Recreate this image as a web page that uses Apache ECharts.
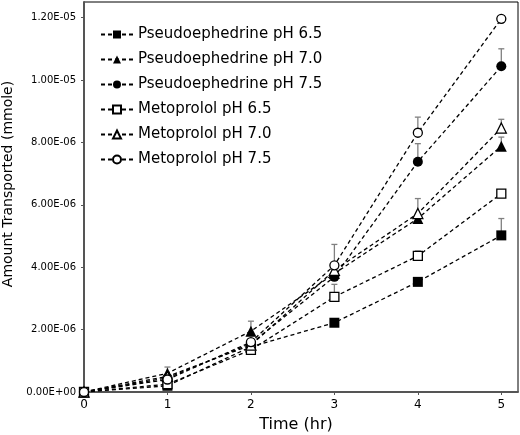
<!DOCTYPE html>
<html>
<head>
<meta charset="utf-8">
<script src="https://cdn.jsdelivr.net/npm/echarts@6/dist/echarts.min.js"></script>
<style>html,body{margin:0;padding:0;background:#fff}#c{width:520px;height:435px}</style>
</head>
<body>
<div id="c"></div>
<script>
var times = [0, 1, 2, 3, 4, 5];
var seriesNames = ["Pseudoephedrine pH 6.5", "Pseudoephedrine pH 7.0", "Pseudoephedrine pH 7.5",
  "Metoprolol pH 6.5", "Metoprolol pH 7.0", "Metoprolol pH 7.5"];
var pse65 = [0, 0.20e-6, 1.45e-6, 2.22e-6, 3.53e-6, 5.02e-6];
var pse70 = [0, 0.60e-6, 1.95e-6, 3.80e-6, 5.56e-6, 7.88e-6];
var pse75 = [0, 0.45e-6, 1.55e-6, 3.69e-6, 7.38e-6, 10.44e-6];
var met65 = [0, 0.25e-6, 1.35e-6, 3.05e-6, 4.36e-6, 6.36e-6];
var met70 = [0, 0.50e-6, 1.50e-6, 3.90e-6, 5.72e-6, 8.46e-6];
var met75 = [0, 0.40e-6, 1.60e-6, 4.06e-6, 8.31e-6, 11.96e-6];
// upward error bars (0 = none visible)
var pse65Err = [0, 0, 0, 0, 0, 0.54e-6];
var pse70Err = [0, 0.20e-6, 0.32e-6, 0, 0, 0.29e-6];
var pse75Err = [0, 0, 0, 0, 0.58e-6, 0.56e-6];
var met65Err = [0, 0, 0, 0.40e-6, 0.16e-6, 0];
var met70Err = [0, 0, 0, 0, 0.48e-6, 0.28e-6];
var met75Err = [0, 0, 0, 0.67e-6, 0.50e-6, 0];

var values = [pse65, pse70, pse75, met65, met70, met75];
var errs = [pse65Err, pse70Err, pse75Err, met65Err, met70Err, met75Err];
var symbols = ['rect', 'triangle', 'circle', 'rect', 'triangle', 'circle'];
var sizes = [10, 11, 10, 9, 10, 9];
var filled = [true, true, true, false, false, false];

function fmtE(v) {
  var s = v.toExponential(2).toUpperCase();
  var m = s.match(/^(.*)E([+-])(\d+)$/);
  var e = m[3].length < 2 ? '0' + m[3] : m[3];
  return m[1] + 'E' + m[2] + e;
}

var series = [];
values.forEach(function (vals, i) {
  var errData = [];
  times.forEach(function (t, j) { if (errs[i][j] > 0) errData.push([t, vals[j], errs[i][j]]); });
  series.push({
    type: 'custom',
    silent: true,
    z: 1,
    data: errData,
    renderItem: function (params, api) {
      var p0 = api.coord([api.value(0), api.value(1)]);
      var p1 = api.coord([api.value(0), api.value(1) + api.value(2)]);
      return {
        type: 'group',
        children: [
          { type: 'line', shape: { x1: p0[0], y1: p0[1], x2: p1[0], y2: p1[1] }, style: { stroke: '#808080', lineWidth: 1.3 } },
          { type: 'line', shape: { x1: p1[0] - 3, y1: p1[1], x2: p1[0] + 3, y2: p1[1] }, style: { stroke: '#808080', lineWidth: 1.3 } }
        ]
      };
    }
  });
});
values.forEach(function (vals, i) {
  series.push({
    name: seriesNames[i],
    type: 'line',
    z: 3,
    data: times.map(function (t, j) { return [t, vals[j]]; }),
    symbol: symbols[i],
    symbolSize: sizes[i],
    showAllSymbol: true,
    lineStyle: { color: '#000', width: 1.3, type: [4, 3] },
    itemStyle: { color: filled[i] ? '#000' : '#fff', borderColor: '#000', borderWidth: filled[i] ? 0 : 1.3 },
    emphasis: { disabled: true },
    animation: false
  });
});

var chart = echarts.init(document.getElementById('c'));
chart.setOption({
  animation: false,
  backgroundColor: '#fff',
  grid: { left: 84, top: 2, right: 2, bottom: 43, outerBoundsMode: 'none', containLabel: false,
    show: true, borderColor: '#000', borderWidth: 1, backgroundColor: 'transparent' },
  legend: {
    data: seriesNames,
    orient: 'vertical',
    left: 95,
    top: 22,
    itemGap: 10,
    itemWidth: 32,
    itemHeight: 10,
    textStyle: { fontFamily: 'DejaVu Sans', fontSize: 15, color: '#000' }
  },
  xAxis: {
    type: 'value', min: 0, max: 5.2, interval: 1,
    name: 'Time (hr)', nameLocation: 'middle', nameGap: 25,
    nameTextStyle: { fontFamily: 'DejaVu Sans', fontSize: 16, color: '#000', padding: [0, 10, 0, 0] },
    axisLine: { lineStyle: { color: '#555', width: 2 } },
    axisTick: { show: true, length: 3, lineStyle: { color: '#555' } },
    axisLabel: { showMaxLabel: false, fontFamily: 'DejaVu Sans', fontSize: 12, color: '#000', margin: 7 },
    splitLine: { show: false }
  },
  yAxis: {
    type: 'value', min: 0, max: 1.25e-5, interval: 2e-6,
    name: 'Amount Transported (mmole)', nameLocation: 'middle', nameGap: 66,
    nameTextStyle: { fontFamily: 'DejaVu Sans', fontSize: 14, color: '#000', padding: [0, 0, 0, 26] },
    axisLine: { show: true, lineStyle: { color: '#555', width: 2 } },
    axisTick: { show: true, length: 3, lineStyle: { color: '#555' } },
    axisLabel: { showMaxLabel: false, fontFamily: 'DejaVu Sans', fontSize: 10, color: '#000', margin: 8,
      formatter: function (v) { return fmtE(v); } },
    splitLine: { show: false }
  },
  series: series
});
</script>
</body>
</html>
